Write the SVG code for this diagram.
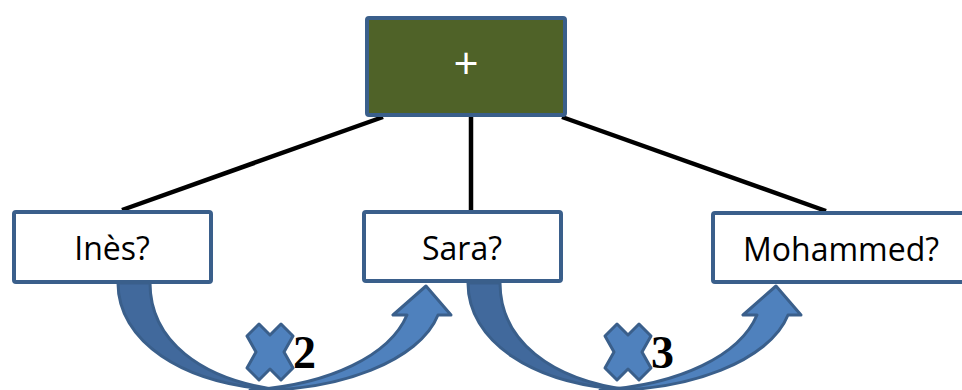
<svg xmlns="http://www.w3.org/2000/svg" width="962" height="390" viewBox="0 0 962 390">
<style>
.box{fill:#ffffff;stroke:#3A5F8B;stroke-width:4}
.lbl{font-family:"Open Sans","Liberation Sans",sans-serif;font-size:32px;fill:#000;text-anchor:middle}
.line{stroke:#000;stroke-width:4.5;fill:none}
.back{fill:#41699C;stroke:#3A5F8B;stroke-width:3;stroke-linejoin:round}
.front{fill:#4F81BD;stroke:#3A5F8B;stroke-width:3;stroke-linejoin:round}
.mul{fill:#4F81BD;stroke:#3A5F8B;stroke-width:3;stroke-linejoin:round}
.num{font-family:"Liberation Serif",serif;font-weight:bold;font-size:46px;fill:#000}
</style>
<defs>
<g id="curved">
<path class="back" d="M118,283 C118,340 180,385 280,390 C200,380 150,340 150,283 Z"/>
<path class="front" d="M250,390 C340,392 420,360 438,315 L451,315 L426,286 L393,315 L407,315 C390,355 330,385 250,390 Z"/>
</g>
<polygon id="mulsign" class="mul" points="-23,-16 -11,-28 0,-17 11,-28 23,-16 14,0 23,16 11,28 0,17 -11,28 -23,16 -14,0"/>
</defs>
<g id="connectors">
<line class="line" x1="383" y1="117" x2="122" y2="210"/>
<line class="line" x1="471" y1="117" x2="471" y2="211"/>
<line class="line" x1="562" y1="117" x2="826" y2="211"/>
<use href="#curved"/>
<use href="#curved" transform="translate(350,0)"/>
</g>
<g id="node-plus">
<rect x="367" y="18" width="198" height="97" rx="2" fill="#4F6228" stroke="#3A5F8B" stroke-width="4"/>
<text x="466" y="79" font-family="'Open Sans','Liberation Sans',sans-serif" font-size="44" fill="#ffffff" text-anchor="middle">+</text>
</g>
<g id="node-ines">
<rect class="box" x="14" y="212" width="197" height="70" rx="2"/>
<text class="lbl" x="112" y="260">Inès?</text>
</g>
<g id="node-sara">
<rect class="box" x="364" y="212" width="197" height="69" rx="2"/>
<text class="lbl" x="462" y="260">Sara?</text>
</g>
<g id="node-mohammed">
<rect class="box" x="713" y="213" width="262" height="69" rx="2"/>
<text class="lbl" x="841" y="261">Mohammed?</text>
</g>
<g id="label-x2">
<use href="#mulsign" transform="translate(270,352)"/>
<text class="num" x="293" y="368">2</text>
</g>
<g id="label-x3">
<use href="#mulsign" transform="translate(628,352)"/>
<text class="num" x="651" y="368">3</text>
</g>
</svg>
